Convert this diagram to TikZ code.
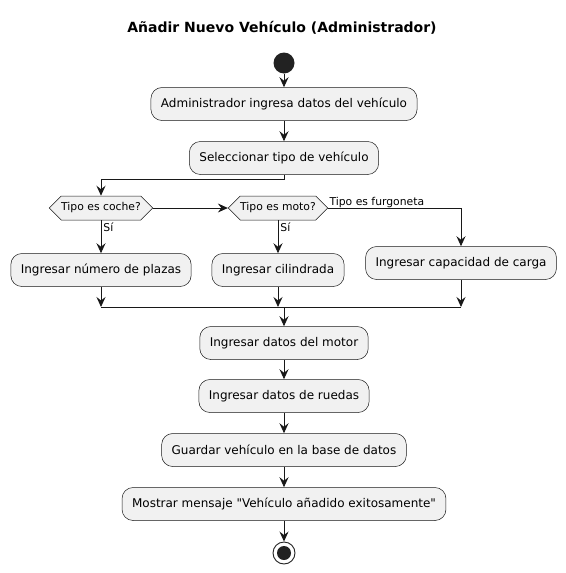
\documentclass[tikz,border=0pt]{standalone}
\usepackage{fontspec}
\setmainfont{DejaVu Sans}[Ligatures=TeXOff]
\usetikzlibrary{arrows.meta,shapes.symbols}
\definecolor{boxfill}{HTML}{F1F1F1}
\definecolor{edge}{HTML}{181818}
\definecolor{dotc}{HTML}{222222}
\begin{document}
\begin{tikzpicture}[x=1pt,y=-1pt,
  act/.style={draw=edge,line width=0.5pt,fill=boxfill,rounded corners=11pt,minimum height=33pt,inner xsep=10pt,font=\fontsize{12}{14}\selectfont},
  hexa/.style={draw=edge,line width=0.5pt,fill=boxfill,shape=signal,signal to=west and east,signal pointer angle=90,minimum height=24pt,inner xsep=0pt,inner ysep=2pt,font=\fontsize{10.8}{12}\selectfont},
  arr/.style={draw=edge,line width=0.9pt,-{Stealth[length=10pt,width=9pt,inset=3.5pt]}},
  ln/.style={draw=edge,line width=0.9pt},
  lbl/.style={font=\fontsize{10.8}{12}\selectfont,inner sep=1pt}]
\useasboundingbox (0,0) rectangle (565,573);
\node[font=\bfseries\fontsize{14}{16}\selectfont] (title) at (282,28) {Añadir Nuevo Vehículo (Administrador)};
\node[circle,fill=dotc,minimum size=21pt,inner sep=0pt] (start) at (284,63) {};
\node[act] (b1) at (284,104) {Administrador ingresa datos del vehículo};
\node[act] (b2) at (284,158) {Seleccionar tipo de vehículo};
\node[hexa] (d1) at (101,208) {Tipo es coche?};
\node[hexa] (d2) at (278,208) {Tipo es moto?};
\node[act] (b3) at (101,270) {Ingresar número de plazas};
\node[act] (b4) at (278,270) {Ingresar cilindrada};
\node[act] (b5) at (461,263) {Ingresar capacidad de carga};
\coordinate (m1) at (101,307);
\coordinate (m5) at (461,307);
\coordinate (mc) at (284,307);
\node[act] (b6) at (284,343) {Ingresar datos del motor};
\node[act] (b7) at (284,396) {Ingresar datos de ruedas};
\node[act] (b8) at (284,450) {Guardar vehículo en la base de datos};
\node[act] (b9) at (284,504) {Mostrar mensaje "Vehículo añadido exitosamente"};
\node[circle,draw=dotc,line width=0.9pt,fill=white,minimum size=22pt,inner sep=0pt] (endo) at (284,553) {};
\node[circle,fill=dotc,minimum size=14pt,inner sep=0pt] (endi) at (284,553) {};
% connectors
\draw[arr] (start) -- (b1);
\draw[arr] (b1) -- (b2);
\draw[arr] (b2.south) -- ++(0,5) -| (d1.north);
\draw[arr] (d1.east) -- (d2.west);
\draw[arr] (d1.south) -- node[lbl,pos=0,anchor=north west,xshift=1pt,yshift=-1pt] {Sí} (b3.north);
\draw[arr] (d2.south) -- node[lbl,pos=0,anchor=north west,xshift=1pt,yshift=-1pt] {Sí} (b4.north);
\draw[arr] (d2.east) -| node[lbl,pos=0,anchor=south west,yshift=-1pt] {Tipo es furgoneta} (b5.north);
\draw[arr] (b3.south) -- (m1);
\draw[arr] (b4.south) -- (b4.south |- m1);
\draw[arr] (b5.south) -- (m5);
\draw[ln] (m1) -- (m5);
\draw[arr] (mc) -- (b6);
\draw[arr] (b6) -- (b7);
\draw[arr] (b7) -- (b8);
\draw[arr] (b8) -- (b9);
\draw[arr] (b9) -- (endo);
\end{tikzpicture}
\end{document}
